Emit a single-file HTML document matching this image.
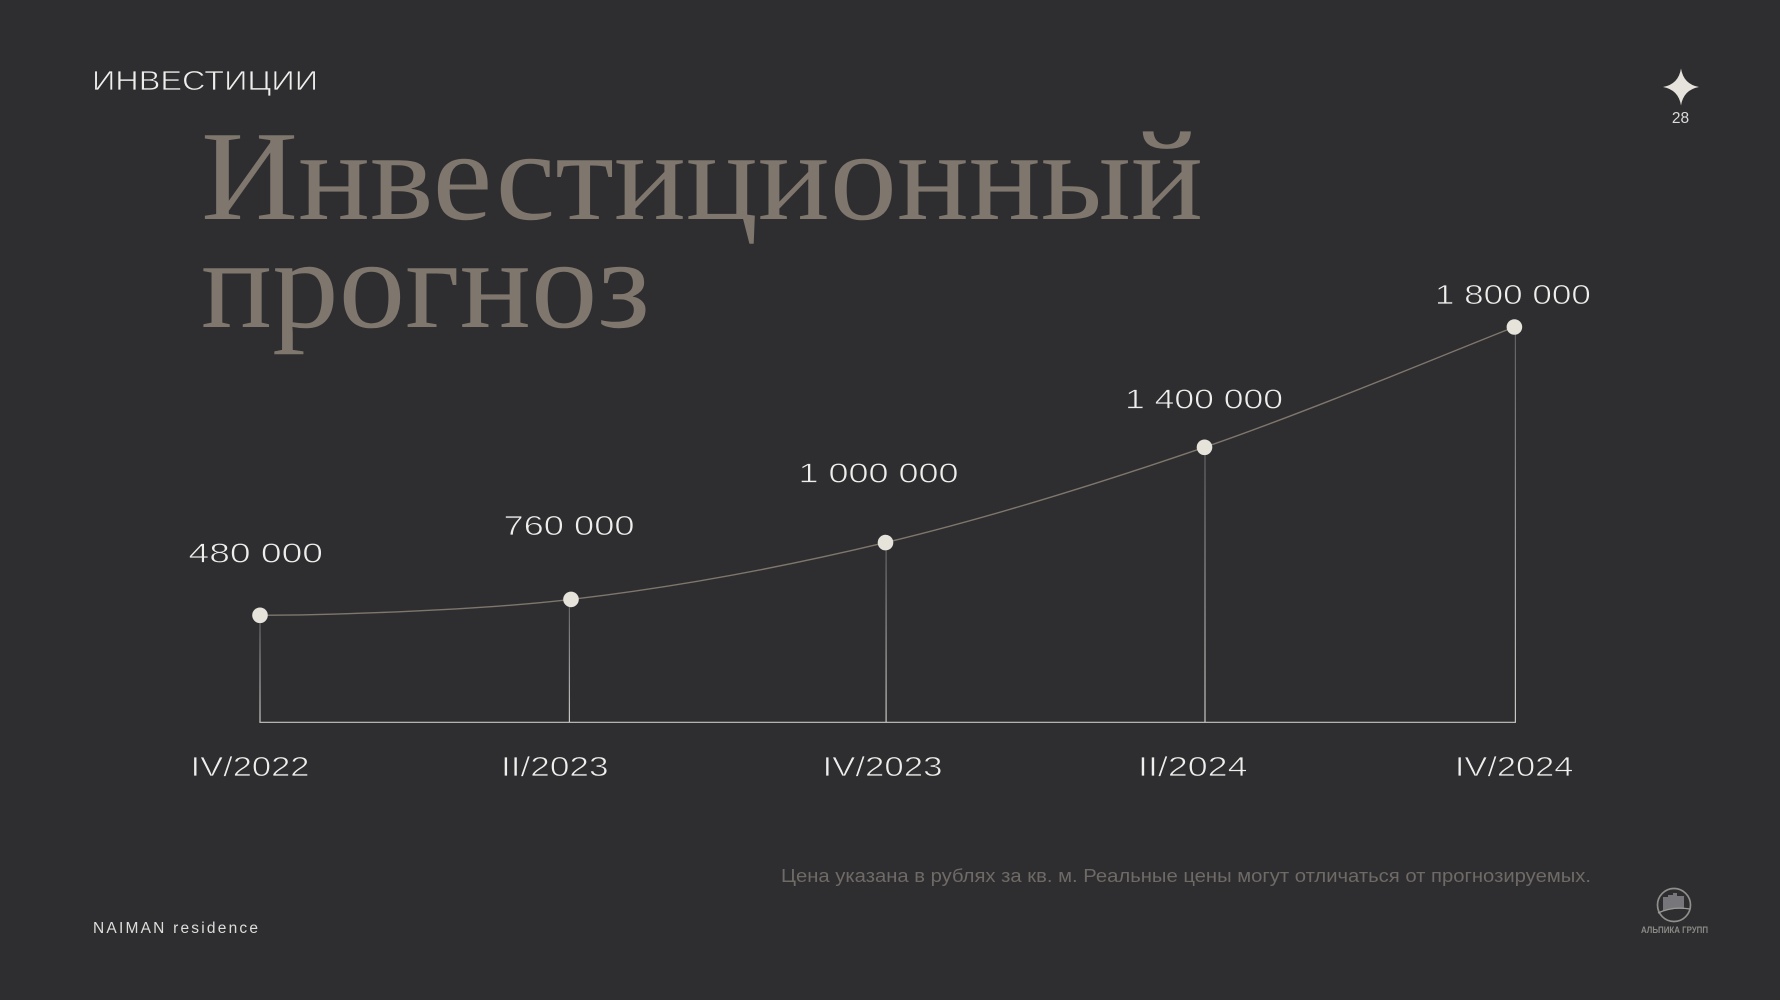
<!DOCTYPE html>
<html lang="ru">
<head>
<meta charset="utf-8">
<title>Инвестиционный прогноз</title>
<style>
  html,body{margin:0;padding:0;background:#2e2e30;}
  body{width:1780px;height:1000px;overflow:hidden;}
  svg{display:block;}
  text{font-family:"Liberation Sans","Noto Sans CJK SC",sans-serif;}
  .thin{stroke:#2e2e30;stroke-width:.7px;}
  .title{font-family:"Liberation Serif","Noto Serif CJK SC",serif;font-size:128px;fill:#7f766d;}
</style>
</head>
<body>
<svg id="slide" xmlns="http://www.w3.org/2000/svg" width="1780" height="1000" viewBox="0 0 1780 1000">
  <rect x="0" y="0" width="1780" height="1000" fill="#2e2e30"/>
  <text class="thin" x="92" y="90" font-size="27.5" fill="#eeeeec" textLength="226" lengthAdjust="spacingAndGlyphs">ИНВЕСТИЦИИ</text>
  <text class="title" x="201" y="219" textLength="1002" lengthAdjust="spacingAndGlyphs">Инвестиционный</text>
  <text class="title" x="201" y="327" textLength="449" lengthAdjust="spacingAndGlyphs">прогноз</text>

  <path fill="#e6e3dc" d="M1681 68.500 Q1683.500 84.200 1699 87 Q1683.500 89.800 1681 105.500 Q1678.500 89.800 1663 87 Q1678.500 84.200 1681 68.500 Z"/>
  <text x="1680.500" y="123" font-size="15.500" fill="#dcdcda" text-anchor="middle">28</text>

  <g id="chart"></g>

  <text x="781" y="882" font-size="18" fill="#6f6a66" textLength="810" lengthAdjust="spacingAndGlyphs">Цена указана в рублях за кв. м. Реальные цены могут отличаться от прогнозируемых.</text>
  <text x="93" y="933" font-size="15.500" fill="#dddddb" textLength="165" lengthAdjust="spacing">NAIMAN residence</text>

  <g>
    <circle cx="1674" cy="905" r="16.500" fill="none" stroke="#8f8f8c" stroke-width="1.700"/>
    <path fill="#77767a" d="M1663 897 h5 v-2 h5 v-2 h4 v3 h7 v13 q-10 -1 -21 2 Z"/>
    <path fill="none" stroke="#9a9a96" stroke-width="1.300" d="M1658 913 Q1673 906 1690 909"/>
    <text x="1641" y="933" font-size="9.500" font-weight="700" fill="#8a8985" textLength="67" lengthAdjust="spacingAndGlyphs">АЛЬПИКА ГРУПП</text>
  </g>
</svg>
<script>
const categories = ["IV/2022", "II/2023", "IV/2023", "II/2024", "IV/2024"];
const priceValues = [480000, 760000, 1000000, 1400000, 1800000];

const SVG_NS = "http://www.w3.org/2000/svg";
const chart = document.getElementById("chart");
const BASELINE_Y = 722.3;

// Category axis: the slide spaces its periods by hand, so the scale is defined by stops.
function xScale(i) {
  const stops = [260, 571, 885.5, 1204.5, 1514.4];
  return stops[i];
}
// Price axis: schematic, piecewise-linear between reference prices.
function yScale(v) {
  const d = [480000, 760000, 1000000, 1400000, 1800000];
  const r = [615.3, 599.4, 542.6, 447.3, 327];
  let k = 0;
  while (k < d.length - 2 && v > d[k + 1]) k++;
  return r[k] + (v - d[k]) * (r[k + 1] - r[k]) / (d[k + 1] - d[k]);
}
function stemX(i) {
  const nudge = [0, -1.6, 0.6, 0.5, 1];
  return xScale(i) + nudge[i];
}
function valueLabelLayout(i) {
  const dx = [-71.5, -67.5, -87, -79.5, -79.5];
  const width = [134.5, 131, 160, 158, 156];
  const lift = [52.6, 64.4, 60, 38.6, 23];
  return { dx: dx[i], width: width[i], lift: lift[i] };
}
function categoryLabelLayout(i) {
  const dx = [-69.5, -70, -63, -66.5, -59.5];
  const width = [119, 107.5, 120, 109.5, 118.5];
  return { dx: dx[i], width: width[i] };
}
function formatPrice(v) {
  return String(v).replace(/\B(?=(\d{3})+$)/g, " ");
}
function make(tag, attrs) {
  const el = document.createElementNS(SVG_NS, tag);
  for (const key in attrs) el.setAttribute(key, attrs[key]);
  return el;
}

// Stem gradient
const defs = make("defs", {});
const grad = make("linearGradient", { id: "stem-gradient", x1: "0", y1: "0", x2: "0", y2: "1" });
grad.appendChild(make("stop", { offset: "0", "stop-color": "#5f5f60" }));
grad.appendChild(make("stop", { offset: "1", "stop-color": "#c9c8c5" }));
defs.appendChild(grad);
chart.appendChild(defs);

// Stems
priceValues.forEach(function (v, i) {
  const y = yScale(v);
  const stem = make("rect", { x: stemX(i) - 0.6, y: y, width: 1.2, height: BASELINE_Y - y, fill: "url(#stem-gradient)" });
  
  
  chart.appendChild(stem);
});

// Baseline
const baseline = make("line", {
  x1: stemX(0) - 0.6, x2: stemX(categories.length - 1) + 0.6,
  y1: BASELINE_Y, y2: BASELINE_Y, stroke: "#c8c7c4", "stroke-width": 1.2
});


chart.appendChild(baseline);

// Smooth curve through the points
const pts = priceValues.map(function (v, i) { return [xScale(i), yScale(v)]; });
function tangent(i) {
  if (i === 0) return [(pts[1][0] - pts[0][0]) / 2, 0];
  if (i === pts.length - 1) return [(pts[i][0] - pts[i - 1][0]) / 2, (pts[i][1] - pts[i - 1][1]) / 2];
  return [(pts[i + 1][0] - pts[i - 1][0]) / 2, (pts[i + 1][1] - pts[i - 1][1]) / 2];
}
let pathData = "M" + pts[0][0] + " " + pts[0][1];
for (let i = 0; i < pts.length - 1; i++) {
  const t0 = tangent(i), t1 = tangent(i + 1);
  pathData += " C" + (pts[i][0] + t0[0] / 3) + " " + (pts[i][1] + t0[1] / 3) + " " +
    (pts[i + 1][0] - t1[0] / 3) + " " + (pts[i + 1][1] - t1[1] / 3) + " " +
    pts[i + 1][0] + " " + pts[i + 1][1];
}
const curve = make("path", { d: pathData, fill: "none", stroke: "#7f766d", "stroke-width": 1.4 });


chart.appendChild(curve);

// Points, value labels, category labels
priceValues.forEach(function (v, i) {
  const x = xScale(i), y = yScale(v);
  const dot = make("circle", { cx: x, cy: y, r: 7.8, fill: "#e6e3da" });
  
  
  chart.appendChild(dot);

  const vl = valueLabelLayout(i);
  const valueText = make("text", {
    x: x + vl.dx, y: y - vl.lift, "font-size": 27.5, fill: "#eeeeec", "class": "thin",
    textLength: vl.width, lengthAdjust: "spacingAndGlyphs"
  });
  
  
  valueText.textContent = formatPrice(v);
  chart.appendChild(valueText);

  const cl = categoryLabelLayout(i);
  const catText = make("text", {
    x: x + cl.dx, y: 776, "font-size": 27.5, fill: "#eeeeec", "class": "thin",
    textLength: cl.width, lengthAdjust: "spacingAndGlyphs"
  });
  
  
  catText.textContent = categories[i];
  chart.appendChild(catText);
});
</script>
</body>
</html>
